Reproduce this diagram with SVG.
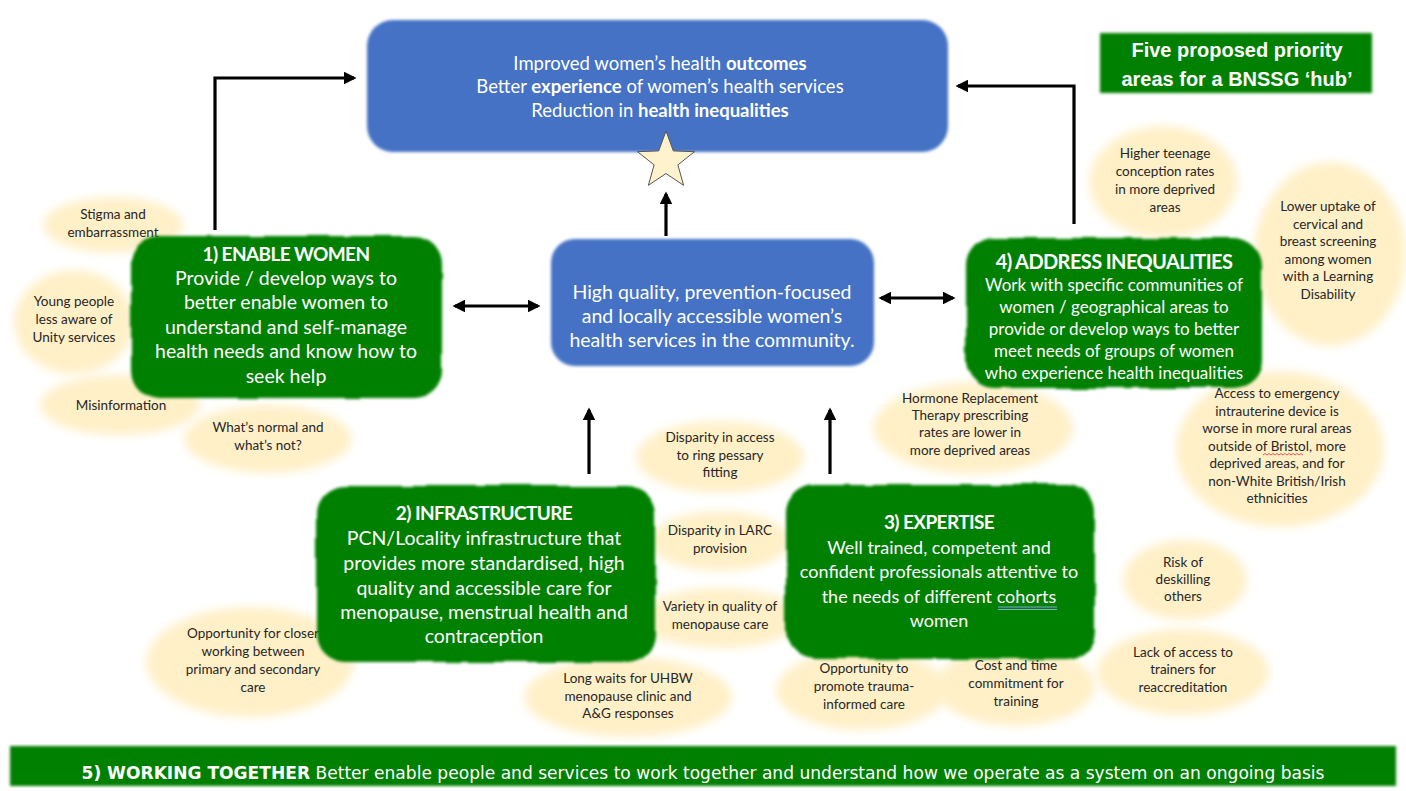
<svg xmlns="http://www.w3.org/2000/svg" width="1406" height="791" viewBox="0 0 1406 791">
<style>
  .blue { fill: #4472C4; }
  .green { fill: #008000; }
  .bub { fill: #FFF0C8; }
  .bt { font-family: Lato, "Open Sans", sans-serif; font-size: 13.5px; fill: #262626; text-anchor: middle; }
  .wt { font-family: Lato, "Open Sans", sans-serif; font-size: 19.5px; fill: #ffffff; text-anchor: middle; }
  .ttl { font-weight: bold; letter-spacing: -0.6px; font-size: 19px; }
  .top { font-size: 18.5px; }
  .b3 { font-size: 18px; }
  .b4 { font-size: 17px; }
  .conn { stroke: #000; stroke-width: 3.2; fill: none; }
</style>
<defs>
  <filter id="soft" x="-30%" y="-30%" width="160%" height="160%">
    <feGaussianBlur stdDeviation="5"/>
  </filter>
  <filter id="wavy" x="-10%" y="-10%" width="120%" height="120%">
    <feTurbulence type="fractalNoise" baseFrequency="0.03" numOctaves="1" seed="3" result="n"/>
    <feDisplacementMap in="SourceGraphic" in2="n" scale="7" xChannelSelector="R" yChannelSelector="G" result="d"/>
    <feGaussianBlur in="d" stdDeviation="1.8"/>
  </filter>
  <filter id="edge" x="-5%" y="-5%" width="110%" height="110%">
    <feGaussianBlur stdDeviation="1.5"/>
  </filter>
  <marker id="ah" viewBox="0 0 10 10" refX="8" refY="5" markerWidth="4" markerHeight="4" orient="auto-start-reverse">
    <path d="M0,0 L10,5 L0,10 z" fill="#000"/>
  </marker>
</defs>
<rect width="1406" height="791" fill="#ffffff"/>

<!-- bubbles -->
<g id="bubbles">
  <g id="b-stigma"><ellipse class="bub" filter="url(#soft)" cx="113" cy="225" rx="70" ry="28"/>
    <text class="bt" x="113" y="219">Stigma and</text><text class="bt" x="113" y="237">embarrassment</text></g>
  <g id="b-young"><ellipse class="bub" filter="url(#soft)" cx="74" cy="322" rx="60" ry="52"/>
    <text class="bt" x="74" y="306">Young people</text><text class="bt" x="74" y="324">less aware of</text><text class="bt" x="74" y="342">Unity services</text></g>
  <g id="b-misinfo"><ellipse class="bub" filter="url(#soft)" cx="120" cy="405" rx="80" ry="30"/>
    <text class="bt" x="121" y="410">Misinformation</text></g>
  <g id="b-normal"><ellipse class="bub" filter="url(#soft)" cx="268" cy="439" rx="84" ry="34"/>
    <text class="bt" x="268" y="432">What’s normal and</text><text class="bt" x="268" y="450">what’s not?</text></g>
  <g id="b-teen"><ellipse class="bub" filter="url(#soft)" cx="1163" cy="182" rx="74" ry="56"/>
    <text class="bt" x="1165" y="158">Higher teenage</text><text class="bt" x="1165" y="176">conception rates</text><text class="bt" x="1165" y="194">in more deprived</text><text class="bt" x="1165" y="212">areas</text></g>
  <g id="b-screen"><ellipse class="bub" filter="url(#soft)" cx="1330" cy="254" rx="76" ry="92"/>
    <text class="bt" x="1328" y="211">Lower uptake of</text><text class="bt" x="1328" y="229">cervical and</text><text class="bt" x="1328" y="246">breast  screening</text><text class="bt" x="1328" y="264">among women</text><text class="bt" x="1328" y="281">with a Learning</text><text class="bt" x="1328" y="299">Disability</text></g>
  <g id="b-hrt"><ellipse class="bub" filter="url(#soft)" cx="973" cy="428" rx="100" ry="46"/>
    <text class="bt" x="970" y="403">Hormone Replacement</text><text class="bt" x="970" y="420">Therapy prescribing</text><text class="bt" x="970" y="437">rates are lower in</text><text class="bt" x="970" y="455">more deprived areas</text></g>
  <g id="b-iud"><ellipse class="bub" filter="url(#soft)" cx="1280" cy="449" rx="104" ry="78"/>
    <text class="bt" x="1277" y="398">Access to emergency</text><text class="bt" x="1277" y="416">intrauterine device is</text><text class="bt" x="1277" y="433">worse in more rural areas</text><text class="bt" x="1277" y="451">outside of Bristol, more</text><text class="bt" x="1277" y="468">deprived areas, and for</text><text class="bt" x="1277" y="486">non-White British/Irish</text><text class="bt" x="1277" y="503">ethnicities</text>
    <path d="M1263,455 l2,-1.5 l2,1.5 l2,-1.5 l2,1.5 l2,-1.5 l2,1.5 l2,-1.5 l2,1.5 l2,-1.5 l2,1.5 l2,-1.5 l2,1.5 l2,-1.5 l2,1.5 l2,-1.5 l2,1.5 l2,-1.5 l2,1.5 l2,-1.5 l2,1.5" stroke="#e03030" stroke-width="0.8" fill="none"/></g>
  <g id="b-ring"><ellipse class="bub" filter="url(#soft)" cx="720" cy="457" rx="84" ry="36"/>
    <text class="bt" x="720" y="442">Disparity in access</text><text class="bt" x="720" y="460">to ring pessary</text><text class="bt" x="720" y="477">fitting</text></g>
  <g id="b-larc"><ellipse class="bub" filter="url(#soft)" cx="720" cy="541" rx="70" ry="30"/>
    <text class="bt" x="720" y="535">Disparity in LARC</text><text class="bt" x="720" y="553">provision</text></g>
  <g id="b-variety"><ellipse class="bub" filter="url(#soft)" cx="720" cy="618" rx="82" ry="30"/>
    <text class="bt" x="720" y="611">Variety in quality of</text><text class="bt" x="720" y="629">menopause care</text></g>
  <g id="b-closer"><ellipse class="bub" filter="url(#soft)" cx="250" cy="662" rx="104" ry="55"/>
    <text class="bt" x="253" y="638">Opportunity for closer</text><text class="bt" x="253" y="656">working between</text><text class="bt" x="253" y="674">primary and secondary</text><text class="bt" x="253" y="692">care</text></g>
  <g id="b-waits"><ellipse class="bub" filter="url(#soft)" cx="628" cy="697" rx="104" ry="40"/>
    <text class="bt" x="628" y="683">Long waits for UHBW</text><text class="bt" x="628" y="701">menopause clinic and</text><text class="bt" x="628" y="718">A&amp;G responses</text></g>
  <g id="b-trauma"><ellipse class="bub" filter="url(#soft)" cx="862" cy="690" rx="86" ry="40"/>
    <text class="bt" x="864" y="673">Opportunity to</text><text class="bt" x="864" y="691">promote trauma-</text><text class="bt" x="864" y="709">informed care</text></g>
  <g id="b-cost"><ellipse class="bub" filter="url(#soft)" cx="1015" cy="686" rx="80" ry="40"/>
    <text class="bt" x="1016" y="670">Cost and time</text><text class="bt" x="1016" y="688">commitment for</text><text class="bt" x="1016" y="706">training</text></g>
  <g id="b-risk"><ellipse class="bub" filter="url(#soft)" cx="1185" cy="580" rx="62" ry="40"/>
    <text class="bt" x="1183" y="567">Risk of</text><text class="bt" x="1183" y="584">deskilling</text><text class="bt" x="1183" y="601">others</text></g>
  <g id="b-lack"><ellipse class="bub" filter="url(#soft)" cx="1183" cy="672" rx="86" ry="43"/>
    <text class="bt" x="1183" y="657">Lack of access to</text><text class="bt" x="1183" y="674">trainers for</text><text class="bt" x="1183" y="692">reaccreditation</text></g>
</g>

<!-- connectors -->
<g id="connectors">
  <path class="conn" d="M215,230 L215,78 L354,78" marker-end="url(#ah)"/>
  <path class="conn" d="M1074,224 L1074,86 L958,86" marker-end="url(#ah)"/>
  <path class="conn" d="M666,236 L666,194" marker-end="url(#ah)"/>
  <path class="conn" d="M455,306 L538,306" marker-start="url(#ah)" marker-end="url(#ah)"/>
  <path class="conn" d="M881,298 L953,298" marker-start="url(#ah)" marker-end="url(#ah)"/>
  <path class="conn" d="M589,474 L589,410" marker-end="url(#ah)"/>
  <path class="conn" d="M830,474 L830,410" marker-end="url(#ah)"/>
</g>

<!-- outcome box -->
<g id="outcomes">
  <rect class="blue" filter="url(#edge)" x="367" y="20" width="581" height="132" rx="26"/>
  <text class="wt top" x="660" y="70">Improved women’s health <tspan font-weight="bold">outcomes</tspan></text>
  <text class="wt top" x="660" y="93">Better <tspan font-weight="bold">experience</tspan> of women’s health services</text>
  <text class="wt top" x="660" y="117">Reduction in <tspan font-weight="bold">health inequalities</tspan></text>
</g>
<g id="star">
  <polygon points="666,131 673.3,150.9 694.5,151.7 677.9,164.9 683.6,185.3 666,173.5 648.4,185.3 654.1,164.9 637.5,151.7 658.7,150.9" fill="#FFF2CC" stroke="#555" stroke-width="1"/>
</g>

<!-- header -->
<g id="header">
  <rect class="green" filter="url(#edge)" x="1100" y="33" width="272" height="60"/>
  <text x="1237" y="57" font-family="'Liberation Sans', Arial, sans-serif" font-weight="bold" font-size="20" fill="#fff" text-anchor="middle">Five proposed priority</text>
  <text x="1237" y="86" font-family="'Liberation Sans', Arial, sans-serif" font-weight="bold" font-size="20" fill="#fff" text-anchor="middle">areas for a BNSSG ‘hub’</text>
</g>

<!-- central box -->
<g id="services">
  <rect class="blue" filter="url(#edge)" x="551" y="239" width="323" height="127" rx="24"/>
  <text class="wt" x="712" y="299">High quality, prevention-focused</text>
  <text class="wt" x="712" y="323">and locally accessible women’s</text>
  <text class="wt" x="712" y="347">health services in the community.</text>
</g>

<!-- 1 enable women -->
<g id="enable-women">
  <rect class="green" filter="url(#wavy)" x="131" y="236" width="311" height="162" rx="28"/>
  <text class="wt ttl" x="286" y="261">1) ENABLE WOMEN</text>
  <text class="wt" x="286" y="285">Provide / develop ways to</text>
  <text class="wt" x="286" y="309">better enable women to</text>
  <text class="wt" x="286" y="334">understand and self-manage</text>
  <text class="wt" x="286" y="358">health needs and know how to</text>
  <text class="wt" x="286" y="383">seek help</text>
</g>

<!-- 4 address inequalities -->
<g id="address-inequalities">
  <rect class="green" filter="url(#wavy)" x="966" y="238" width="296" height="150" rx="28"/>
  <text class="wt ttl" style="font-size:20px" x="1114" y="269">4)  ADDRESS INEQUALITIES</text>
  <text class="wt b4" x="1114" y="291">Work with specific communities of</text>
  <text class="wt b4" x="1114" y="313">women / geographical areas to</text>
  <text class="wt b4" x="1114" y="335">provide or develop ways to better</text>
  <text class="wt b4" x="1114" y="357">meet needs of groups of women</text>
  <text class="wt b4" x="1114" y="379">who experience health inequalities</text>
</g>

<!-- 2 infrastructure -->
<g id="infrastructure">
  <rect class="green" filter="url(#wavy)" x="317" y="486" width="338" height="176" rx="28"/>
  <text class="wt ttl" x="484" y="520">2) INFRASTRUCTURE</text>
  <text class="wt" x="484" y="545">PCN/Locality infrastructure that</text>
  <text class="wt" x="484" y="570">provides more standardised, high</text>
  <text class="wt" x="484" y="595">quality and accessible care for</text>
  <text class="wt" x="484" y="619">menopause, menstrual health and</text>
  <text class="wt" x="484" y="643">contraception</text>
</g>

<!-- 3 expertise -->
<g id="expertise">
  <rect class="green" filter="url(#wavy)" x="786" y="484" width="309" height="175" rx="28"/>
  <text class="wt ttl" x="939" y="529">3) EXPERTISE</text>
  <text class="wt b3" x="939" y="554">Well trained, competent and</text>
  <text class="wt b3" x="939" y="578">confident professionals attentive to</text>
  <text class="wt b3" x="939" y="603">the needs of different cohorts</text>
  <text class="wt b3" x="939" y="627">women</text>
  <path d="M998,607 L1057,607 M998,609.5 L1057,609.5" stroke="#7ea6d8" stroke-width="1"/>
</g>

<!-- 5 working together -->
<g id="working-together">
  <rect class="green" filter="url(#edge)" x="10" y="746" width="1386" height="40"/>
  <text x="703" y="779" font-family="'DejaVu Sans Condensed', 'DejaVu Sans', sans-serif" font-size="17" fill="#fff" text-anchor="middle" textLength="1243" lengthAdjust="spacingAndGlyphs"><tspan font-weight="bold">5) WORKING TOGETHER</tspan> Better enable people and services to work together and understand how we operate as a system on an ongoing basis</text>
</g>
</svg>
